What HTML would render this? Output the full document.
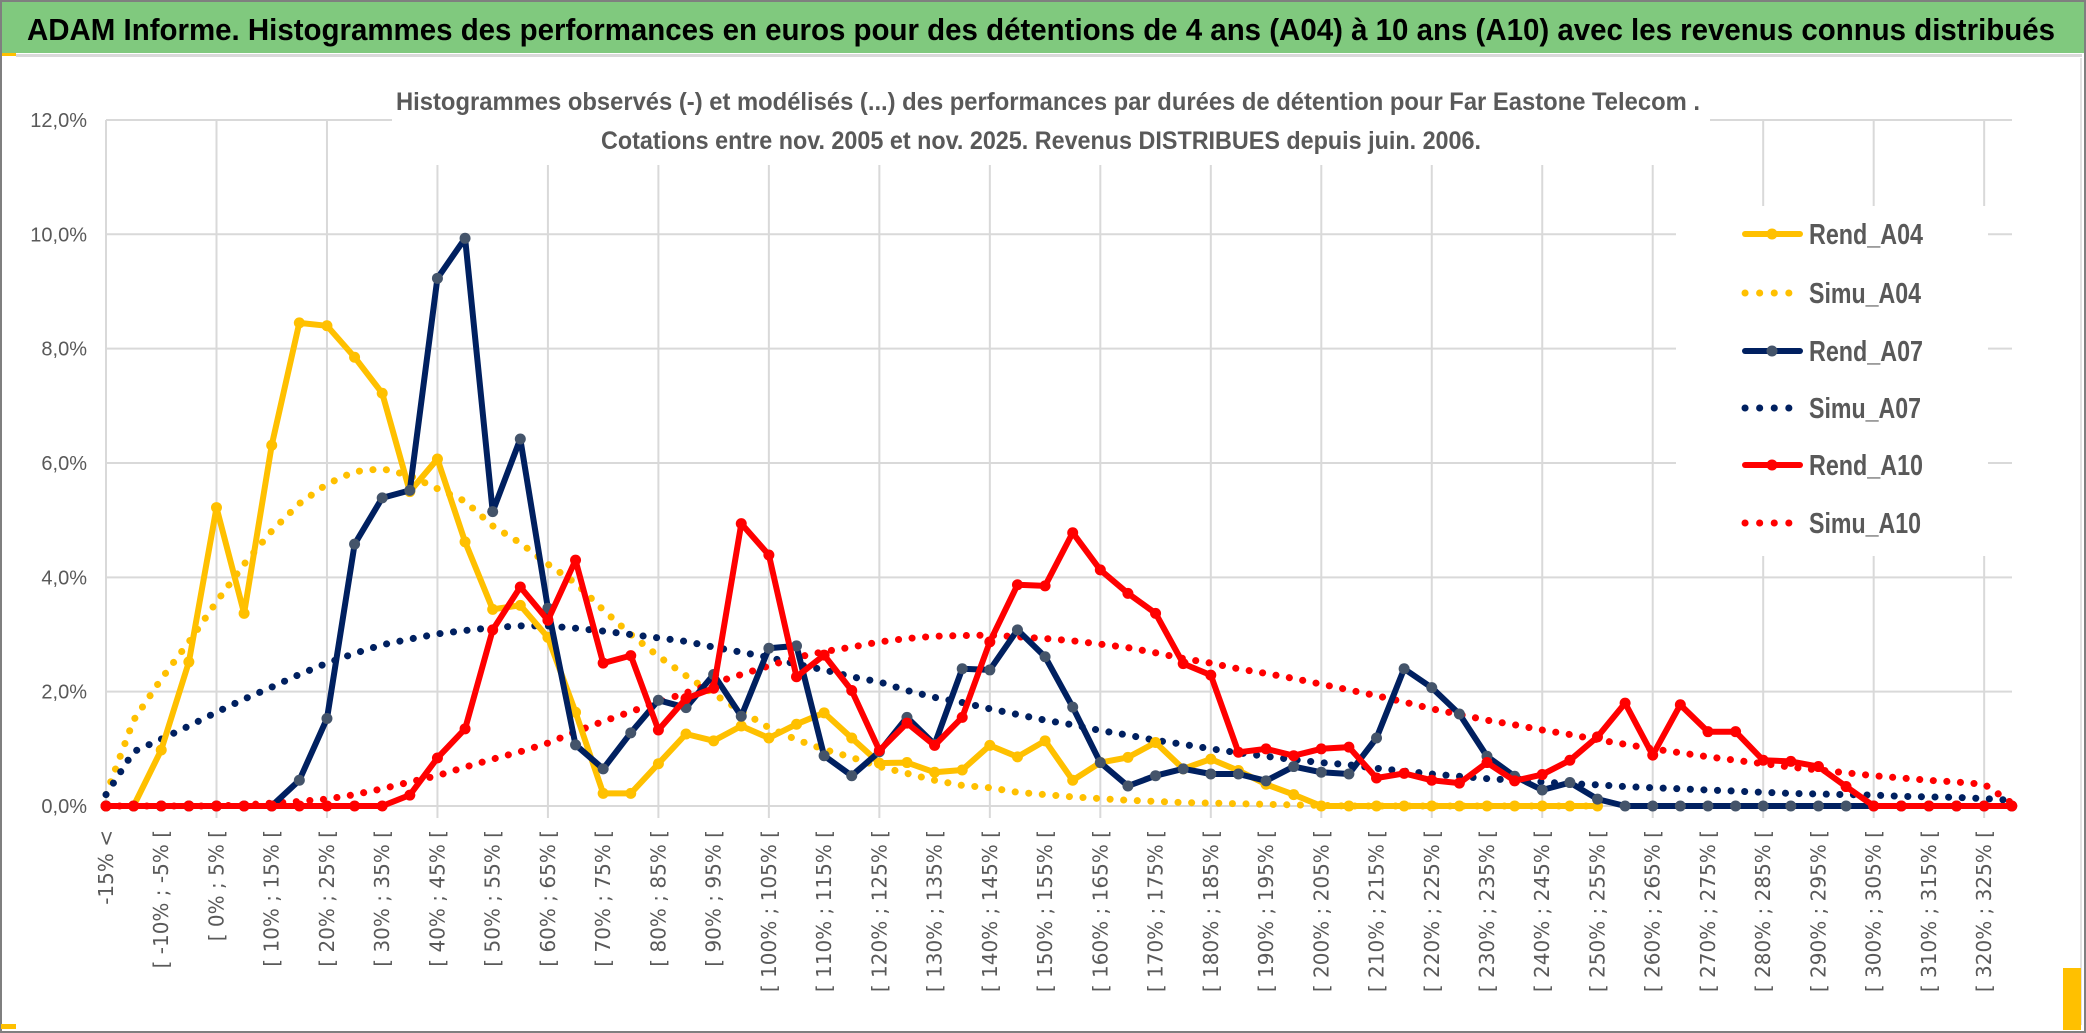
<!DOCTYPE html>
<html><head><meta charset="utf-8">
<style>
html,body{margin:0;padding:0;background:#fff;}
svg{display:block;}
</style></head>
<body>
<svg id="chart" width="2086" height="1033" viewBox="0 0 2086 1033" xmlns="http://www.w3.org/2000/svg">
  <rect x="0" y="0" width="2086" height="1033" fill="#fff"/>
  <rect x="1" y="1" width="2084" height="52" fill="#80c97e"/>
  <rect x="16" y="54" width="2066" height="3" fill="#d9d9d9"/>
  <rect x="0" y="53" width="16" height="3" fill="#ffc000"/>
  <text x="27" y="40" font-family="'Liberation Sans Narrow','Liberation Sans',sans-serif" font-weight="bold" font-size="31" fill="#000" textLength="2028" lengthAdjust="spacingAndGlyphs">ADAM Informe. Histogrammes des performances en euros pour des détentions de 4 ans (A04) à 10 ans (A10) avec les revenus connus distribués</text>
  <g id="grid"></g>
  <rect x="392" y="60" width="1318" height="105" fill="#fff"/>
  <text x="396" y="110" font-family="'Liberation Sans Narrow','Liberation Sans',sans-serif" font-weight="bold" font-size="25" fill="#595959" textLength="1304" lengthAdjust="spacingAndGlyphs">Histogrammes observés (-) et modélisés (...) des performances par durées de détention pour Far Eastone Telecom .</text>
  <text x="601" y="149" font-family="'Liberation Sans Narrow','Liberation Sans',sans-serif" font-weight="bold" font-size="25" fill="#595959" textLength="880" lengthAdjust="spacingAndGlyphs">Cotations entre nov. 2005 et nov. 2025. Revenus DISTRIBUES depuis juin. 2006.</text>
  <g id="yaxis"></g>
  <g id="xaxis"></g>
  <g id="series"></g>
  <g id="legend"></g>
  <line x1="2081" y1="58" x2="2081" y2="1025" stroke="#d9d9d9" stroke-width="1.5"/>
  <rect x="1" y="1" width="2084" height="1031" fill="none" stroke="#7f7f7f" stroke-width="2"/>
  <rect x="1" y="1024" width="15" height="5" fill="#ffc000"/>
  <rect x="2063" y="968" width="18" height="62" fill="#ffc000"/>
</svg>
<script>
const categories = ["-15% <"];
for (let k = 1; k < 70; k++) { const a = -15 + 5*(k-1); categories.push("[ " + a + "% ; " + (a+5) + "% ["); }
const yTicks = [0, 2, 4, 6, 8, 10, 12];
const yTickLabels = ["0,0%","2,0%","4,0%","6,0%","8,0%","10,0%","12,0%"];
const seriesNames = ["Rend_A04","Simu_A04","Rend_A07","Simu_A07","Rend_A10","Simu_A10"];
const rendA04 = [0,0,0.98,2.52,5.22,3.37,6.31,8.45,8.4,7.85,7.22,5.5,6.07,4.62,3.44,3.51,2.95,1.64,0.22,0.22,0.74,1.26,1.14,1.4,1.19,1.43,1.63,1.19,0.75,0.76,0.59,0.63,1.06,0.86,1.14,0.45,0.76,0.85,1.11,0.65,0.82,0.62,0.38,0.2,0,0,0,0,0,0,0,0,0,0,0,null,null,null,null,null,null,null,null,null,null,null,null,null,null,null];
const simuA04 = [0.2,1.5,2.22,2.87,3.57,4.23,4.81,5.29,5.63,5.85,5.9,5.78,5.55,5.33,4.9,4.6,4.23,3.9,3.43,3.0,2.62,2.28,1.96,1.66,1.37,1.16,0.99,0.85,0.69,0.57,0.45,0.36,0.32,0.24,0.2,0.16,0.13,0.1,0.08,0.06,0.05,0.04,0.03,0.02,0.01,0,0,0,0,0,0,0,0,0,0,null,null,null,null,null,null,null,null,null,null,null,null,null,null,null];
const rendA07 = [0,0,0,0,0,0,0,0.45,1.53,4.58,5.39,5.52,9.23,9.93,5.15,6.42,3.46,1.07,0.65,1.28,1.85,1.72,2.3,1.57,2.76,2.8,0.88,0.53,0.95,1.55,1.08,2.4,2.38,3.08,2.61,1.73,0.76,0.35,0.53,0.65,0.56,0.56,0.44,0.69,0.59,0.56,1.19,2.4,2.07,1.61,0.87,0.52,0.28,0.41,0.12,0,0,0,0,0,0,0,0,0,0,0,0,0,0,0];
const simuA07 = [0.2,0.95,1.17,1.4,1.64,1.87,2.08,2.3,2.5,2.67,2.82,2.92,3.01,3.07,3.12,3.15,3.15,3.11,3.06,3.0,2.94,2.88,2.78,2.69,2.6,2.48,2.38,2.26,2.17,2.02,1.9,1.81,1.7,1.6,1.5,1.42,1.32,1.24,1.15,1.08,1.0,0.93,0.87,0.81,0.76,0.72,0.66,0.61,0.56,0.52,0.48,0.45,0.42,0.39,0.37,0.34,0.32,0.3,0.28,0.26,0.24,0.22,0.21,0.2,0.19,0.17,0.16,0.15,0.13,0.1];
const rendA10 = [0,0,0,0,0,0,0,0,0,0,0,0.19,0.84,1.35,3.08,3.83,3.25,4.3,2.5,2.63,1.33,1.88,2.06,4.94,4.39,2.26,2.64,2.02,0.97,1.45,1.06,1.55,2.87,3.87,3.85,4.78,4.13,3.72,3.37,2.49,2.29,0.94,1.0,0.88,1.0,1.03,0.49,0.57,0.45,0.4,0.76,0.44,0.55,0.8,1.21,1.8,0.89,1.77,1.3,1.3,0.8,0.78,0.69,0.34,0,0,0,0,0,0];
const simuA10 = [0,0,0,0,0,0.02,0.05,0.08,0.12,0.2,0.3,0.42,0.53,0.68,0.82,0.95,1.1,1.3,1.48,1.65,1.82,1.98,2.15,2.3,2.45,2.6,2.7,2.78,2.87,2.93,2.97,2.98,2.99,2.96,2.93,2.89,2.83,2.77,2.68,2.58,2.5,2.4,2.32,2.23,2.13,2.03,1.93,1.82,1.7,1.6,1.5,1.42,1.33,1.25,1.16,1.08,1.0,0.93,0.86,0.8,0.74,0.68,0.63,0.58,0.53,0.49,0.45,0.42,0.38,0.05];

const NS = "http://www.w3.org/2000/svg";
const X0 = 106, STEP = 27.62, Y0 = 806, PER = 57.17, RIGHT = 2012, TOP = 120;
function xS(i){ return X0 + i*STEP; }
function yS(v){ return Y0 - v*PER; }
function mk(tag, attrs, parent){ const e = document.createElementNS(NS, tag); for (const k in attrs) e.setAttribute(k, attrs[k]); parent.appendChild(e); return e; }

const grid = document.getElementById('grid');
yTicks.forEach((t, i) => {
  const l = mk('line', {x1:X0, x2:RIGHT, y1:yS(t), y2:yS(t), stroke:'#d9d9d9', 'stroke-width':2}, grid);
  
  
});
for (let i = 4; i < categories.length; i += 4) {
  const l = mk('line', {x1:xS(i), x2:xS(i), y1:TOP, y2:Y0+12, stroke:'#d9d9d9', 'stroke-width':2}, grid);
  
  
}
mk('line', {x1:X0, x2:X0, y1:TOP, y2:Y0, stroke:'#d9d9d9', 'stroke-width':2}, grid);

const yaxis = document.getElementById('yaxis');
yTicks.forEach((t, i) => {
  const tx = mk('text', {x:87, y:yS(t)+7, 'text-anchor':'end', 'font-family':"'Liberation Sans Narrow','Liberation Sans',sans-serif", 'font-size':20, fill:'#595959'}, yaxis);
  tx.textContent = yTickLabels[i];
  
  
});

const xaxis = document.getElementById('xaxis');
categories.forEach((c, i) => {
  if (i % 2 !== 0) return;
  const x = xS(i) + 7, y = 830;
  const tx = mk('text', {x:x, y:y, transform:'rotate(-90 '+x+' '+y+')', 'text-anchor':'end', 'font-family':"'DejaVu Sans',sans-serif", 'font-size':20, fill:'#595959'}, xaxis);
  tx.textContent = c;
  
  
});

const seriesEl = document.getElementById('series');
function pathFor(arr){
  let d = '', pen = false;
  arr.forEach((v, i) => { if (v === null) { pen = false; return; } d += (pen ? 'L' : 'M') + xS(i).toFixed(1) + ' ' + yS(v).toFixed(1) + ' '; pen = true; });
  return d;
}
function drawDotted(arr, color, name){
  const p = mk('path', {d:pathFor(arr), fill:'none', stroke:color, 'stroke-width':7, 'stroke-linecap':'round', 'stroke-dasharray':'0.1 13.5'}, seriesEl);
  
  
}
function drawSolid(arr, color, mcolor, name){
  const p = mk('path', {d:pathFor(arr), fill:'none', stroke:color, 'stroke-width':6, 'stroke-linejoin':'round', 'stroke-linecap':'round'}, seriesEl);
  
  
  arr.forEach((v, i) => {
    if (v === null) return;
    const c = mk('circle', {cx:xS(i), cy:yS(v), r:5.5, fill:mcolor}, seriesEl);
    
    
  });
}
drawDotted(simuA04, '#ffc000', 'simu-a04-line');
drawDotted(simuA07, '#002060', 'simu-a07-line');
drawDotted(simuA10, '#ff0000', 'simu-a10-line');
drawSolid(rendA04, '#ffc000', '#ffc000', 'rend-a04-line');
drawSolid(rendA07, '#002060', '#44546a', 'rend-a07-line');
drawSolid(rendA10, '#ff0000', '#ff0000', 'rend-a10-line');

const legend = document.getElementById('legend');
const lb = mk('rect', {x:1676, y:206, width:312, height:350, fill:'#fff'}, legend);


const legColors = ['#ffc000','#ffc000','#002060','#002060','#ff0000','#ff0000'];
const legMarker = ['#ffc000',null,'#44546a',null,'#ff0000',null];
const legY = [234, 293, 351, 408, 465, 523];
seriesNames.forEach((n, i) => {
  const g = mk('g', {}, legend);
  
  
  const y = legY[i];
  if (legMarker[i]) {
    mk('line', {x1:1745, x2:1800, y1:y, y2:y, stroke:legColors[i], 'stroke-width':6, 'stroke-linecap':'round'}, g);
    mk('circle', {cx:1772, cy:y, r:5.5, fill:legMarker[i]}, g);
  } else {
    mk('line', {x1:1745, x2:(i===5?1800:1790), y1:y, y2:y, stroke:legColors[i], 'stroke-width':7, 'stroke-linecap':'round', 'stroke-dasharray':'0.1 14.5'}, g);
  }
  const t = mk('text', {x:1809, y:y+10, 'font-family':"'Liberation Sans Narrow','Liberation Sans',sans-serif", 'font-weight':'bold', 'font-size':29, fill:'#595959', textLength:(i%2===0?114:112), lengthAdjust:'spacingAndGlyphs'}, g);
  t.textContent = n;
});
</script>
</body></html>
